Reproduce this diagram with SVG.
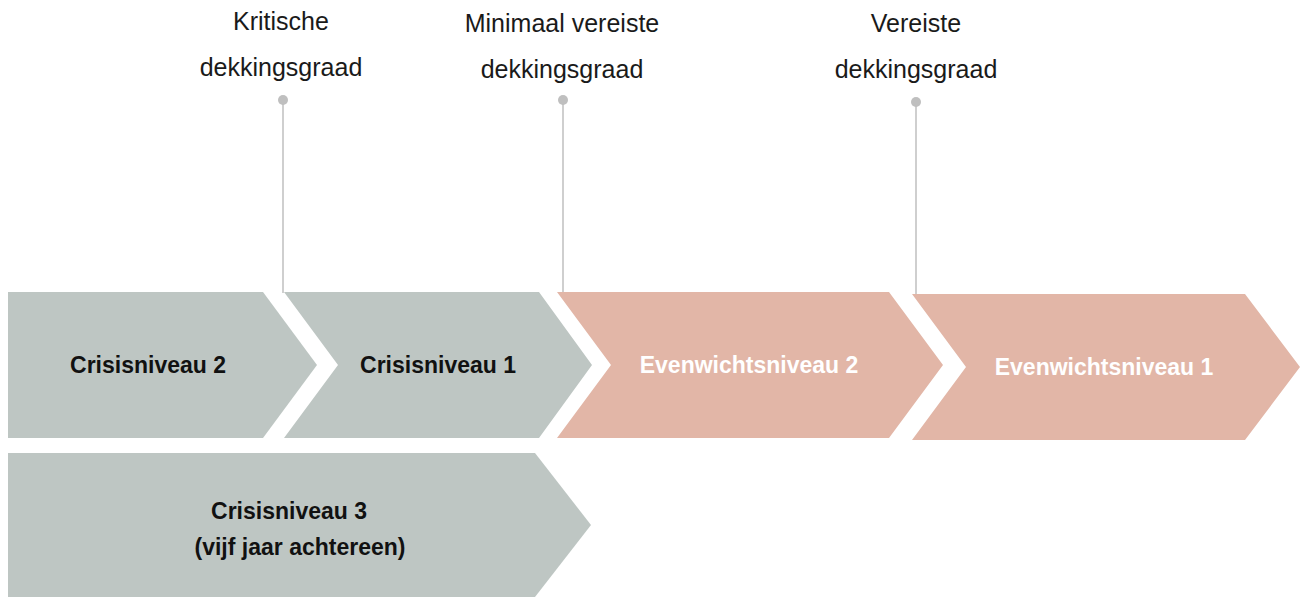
<svg xmlns="http://www.w3.org/2000/svg" width="1306" height="598" viewBox="0 0 1306 598">
<style>
.gray{fill:#BEC6C3}
.pink{fill:#E2B6A7}
.lbl{font-family:"Liberation Sans",Arial,sans-serif;font-weight:bold;font-size:23px;text-anchor:middle}
.dark{fill:#111111}
.light{fill:#FFFFFF}
.top{font-family:"Liberation Sans",Arial,sans-serif;font-size:25px;fill:#1a1a1a;text-anchor:middle}
.pin{stroke:#BFBFBF;stroke-width:1.5;fill:none}
.dot{fill:#BFBFBF}
</style>
<rect width="1306" height="598" fill="#FFFFFF"/>
<g id="connectors">
<line class="pin" x1="283" y1="100" x2="283" y2="293"/>
<circle class="dot" cx="283" cy="100" r="5"/>
<line class="pin" x1="563" y1="100" x2="563" y2="293"/>
<circle class="dot" cx="563" cy="100" r="5"/>
<line class="pin" x1="916" y1="102" x2="916" y2="295"/>
<circle class="dot" cx="916" cy="102" r="5"/>
</g>
<g id="label-kritische">
<text class="top" x="281" y="30">Kritische</text>
<text class="top" x="281" y="76">dekkingsgraad</text>
</g>
<g id="label-minimaal">
<text class="top" x="562" y="32">Minimaal vereiste</text>
<text class="top" x="562" y="78">dekkingsgraad</text>
</g>
<g id="label-vereiste">
<text class="top" x="916" y="32">Vereiste</text>
<text class="top" x="916" y="78">dekkingsgraad</text>
</g>
<g id="crisis2">
<polygon class="gray" points="8,292 263,292 317,365 263,438 8,438"/>
<text class="lbl dark" x="148" y="373">Crisisniveau 2</text>
</g>
<g id="crisis1">
<polygon class="gray" points="284,292 539,292 592,365 539,438 284,438 338,365"/>
<text class="lbl dark" x="438" y="373">Crisisniveau 1</text>
</g>
<g id="evenwicht2">
<polygon class="pink" points="557,292 889,292 943,365 889,438 557,438 611,365"/>
<text class="lbl light" x="749" y="373">Evenwichtsniveau 2</text>
</g>
<g id="evenwicht1">
<polygon class="pink" points="912,294 1245,294 1300,367 1245,440 912,440 966,367"/>
<text class="lbl light" x="1104" y="375">Evenwichtsniveau 1</text>
</g>
<g id="crisis3">
<polygon class="gray" points="8,453 535,453 591,525 535,597 8,597"/>
<text class="lbl dark" x="289" y="519">Crisisniveau 3</text>
<text class="lbl dark" x="300" y="555">(vijf jaar achtereen)</text>
</g>
</svg>
